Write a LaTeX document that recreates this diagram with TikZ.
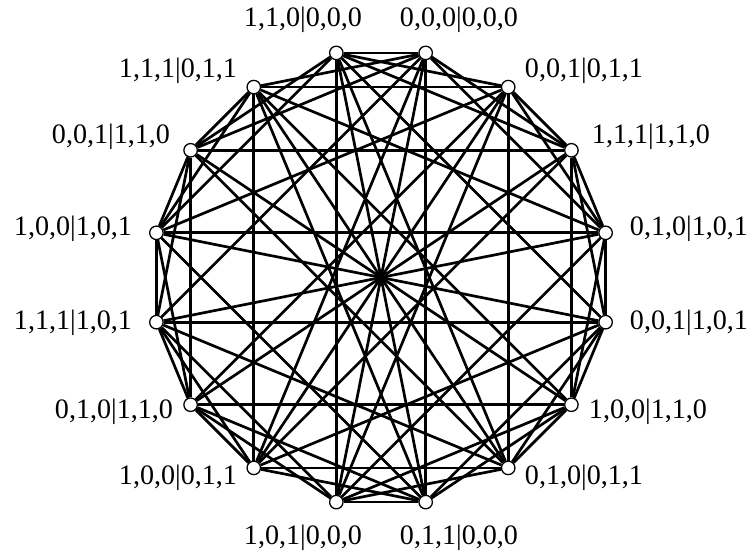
\documentclass[tikz,border=0pt]{standalone}
\usepackage{fontspec}
\setmainfont{Liberation Serif}

\begin{document}
\begin{tikzpicture}[x=0.03cm, y=-0.03cm, font=\fontsize{24}{28}\selectfont,
  vtx/.style={draw, circle, fill=white, line width=1.1pt, minimum size=11.5pt, inner sep=0pt},
  edge/.style={line width=2.3pt}]

\useasboundingbox (0,0) rectangle (756,553);

% =================================================================================
% the vertices, a regular 16-gon round (381,277.5)
% =================================================================================
\foreach \i in {0,...,15} {
  \node[vtx] (n\i) at ({381+229*cos(101.25-22.5*\i)},{277.5-229*sin(101.25-22.5*\i)}) {};
}

% =================================================================================
% the edges: same settings, or a shared setting with another outcome
% =================================================================================
\foreach \a/\b in {0/1, 0/8, 0/9, 1/8, 1/9, 8/9,
                   2/7, 2/10, 2/15, 7/10, 7/15, 10/15,
                   3/6, 3/11, 3/14, 6/11, 6/14, 11/14,
                   4/5, 4/12, 4/13, 5/12, 5/13, 12/13,
                   0/2, 0/7, 1/10, 1/15, 8/10, 8/15, 9/2, 9/7,
                   0/3, 0/14, 1/3, 1/14, 8/6, 8/11, 9/6, 9/11,
                   0/5, 0/13, 1/4, 1/12, 8/5, 8/13, 9/4, 9/12,
                   2/3, 2/11, 7/6, 7/14, 10/3, 10/11, 15/6, 15/14,
                   2/4, 2/13, 7/5, 7/12, 10/5, 10/12, 15/4, 15/13,
                   3/4, 3/5, 6/4, 6/5, 11/12, 11/13, 14/12, 14/13} {
  \draw[edge] (n\a) -- (n\b);
}

% =================================================================================
% the labels
% =================================================================================
\node (l0)  at (303,20)  {1,1,0|0,0,0};
\node (l1)  at (459,20)  {0,0,0|0,0,0};
\node (l2)  at (584,71)  {0,0,1|0,1,1};
\node (l3)  at (651,137) {1,1,1|1,1,0};
\node (l4)  at (689,229) {0,1,0|1,0,1};
\node (l5)  at (689,323) {0,0,1|1,0,1};
\node (l6)  at (648,412) {1,0,0|1,1,0};
\node (l7)  at (584,478) {0,1,0|0,1,1};
\node (l8)  at (459,538) {0,1,1|0,0,0};
\node (l9)  at (303,538) {1,0,1|0,0,0};
\node (l10) at (178,478) {1,0,0|0,1,1};
\node (l11) at (114,412) {0,1,0|1,1,0};
\node (l12) at (73,323)  {1,1,1|1,0,1};
\node (l13) at (73,229)  {1,0,0|1,0,1};
\node (l14) at (111,137) {0,0,1|1,1,0};
\node (l15) at (178,71)  {1,1,1|0,1,1};

\end{tikzpicture}
\end{document}
